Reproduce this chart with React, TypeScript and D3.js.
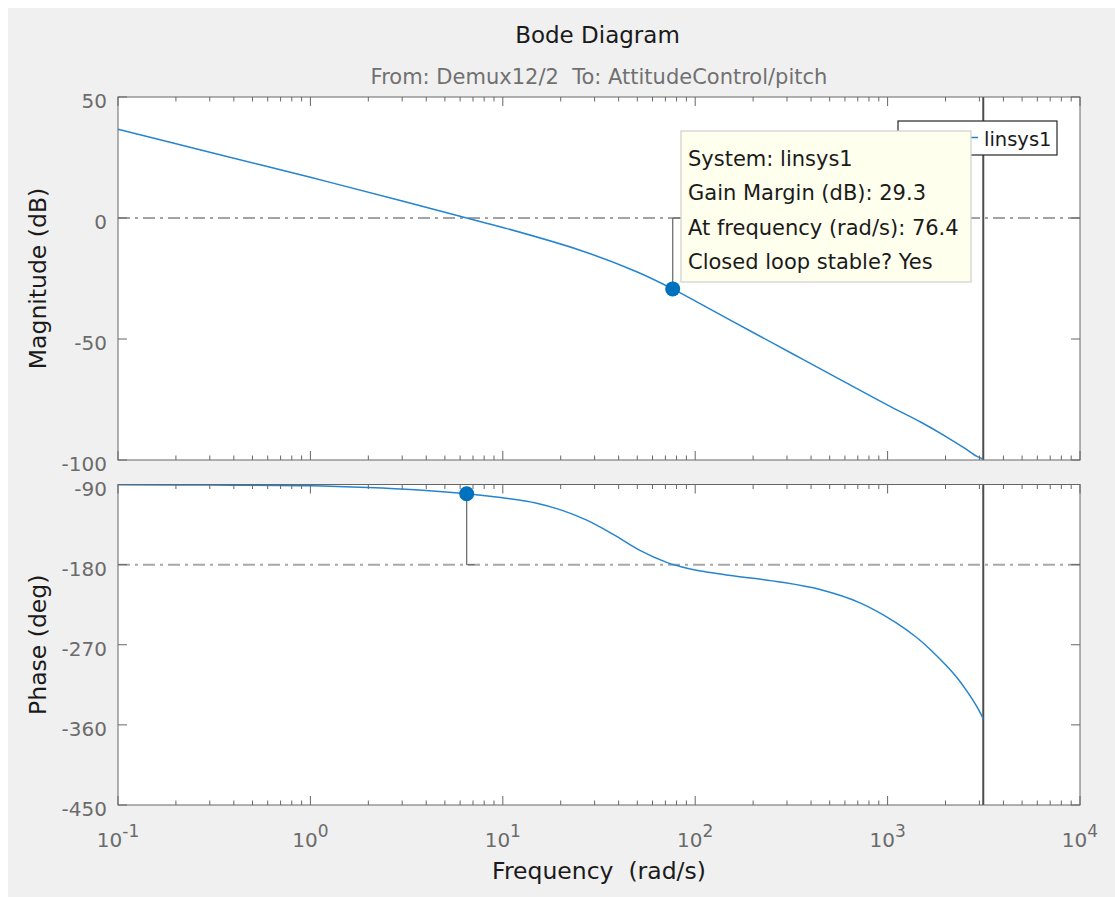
import React from "react";
import * as d3 from "d3";

// frequency samples (rad/s) and values
const magFreq = [0.1, 0.3, 1, 3, 6.49, 10, 25.2, 50, 76.4, 106, 200, 351, 600, 1000, 1500, 2000, 2500, 2900, 3141.6];
const magDb = [36.7, 27.2, 16.8, 7.0, 0, -3.9, -13.3, -22.3, -29.3, -35.4, -47.3, -57.8, -67.8, -77.3, -84.5, -90.2, -95, -98.4, -99.6];

const phFreq = [0.1, 0.3, 1, 2, 3.5, 6.49, 10, 15, 20, 27.3, 37.5, 51.6, 71, 83.4, 100, 150, 276, 445, 719, 1114, 1400, 1660, 2000, 2285, 2600, 2900, 3141.6];
const phDeg = [-90.3, -90.6, -91.5, -93.5, -96, -100.4, -105, -111, -118.5, -130, -146, -164, -177.5, -182, -186, -192, -199.5, -208, -223, -245.6, -261, -275, -292.5, -306.5, -323, -339, -353];

const xTickExps = [-1, 0, 1, 2, 3, 4];
const magTicks = [50, 0, -50, -100];
const phTicks = [-90, -180, -270, -360, -450];

const gmFreq = 76.4;
const gmDb = -29.3;
const pmFreq = 6.49;
const pmDeg = -100.4;
const nyquistFreq = 3141.6;

const tipLines = [
  "System: linsys1",
  "Gain Margin (dB): 29.3",
  "At frequency (rad/s): 76.4",
  "Closed loop stable? Yes",
];
const seriesName = "linsys1";

const FONT = "'DejaVu Sans', Arial, sans-serif";
const BLUE = "#0072BD";
const LINE_BLUE = "#2584cf";
const AXIS = "#666666";
const TICKTXT = "#6b6b6b";

const left = 118;
const right = 1080;
const magTop = 97;
const magBottom = 460;
const phTop = 484.5;
const phBottom = 805;

const x = d3.scaleLog().domain([0.1, 1e4]).range([left, right]);
const yMag = d3.scaleLinear().domain([-100, 50]).range([magBottom, magTop]);
const yPh = d3.scaleLinear().domain([-450, -90]).range([phBottom, phTop]);

const majorTicks = xTickExps.map((e) => Math.pow(10, e));
const minorTicks: number[] = [];
xTickExps.slice(0, -1).forEach((e) => {
  for (let m = 2; m <= 9; m++) minorTicks.push(m * Math.pow(10, e));
});

const Ticks = ({ y0, y1, yTicks, yScale }: any) => (
  <g stroke={AXIS} strokeWidth={1}>
    {majorTicks.map((f, i) => (
      <g key={"M" + i}>
        <line x1={x(f)} x2={x(f)} y1={y0} y2={y0 + 9} />
        <line x1={x(f)} x2={x(f)} y1={y1} y2={y1 - 9} />
      </g>
    ))}
    {minorTicks.map((f, i) => (
      <g key={"m" + i}>
        <line x1={x(f)} x2={x(f)} y1={y0} y2={y0 + 4.5} />
        <line x1={x(f)} x2={x(f)} y1={y1} y2={y1 - 4.5} />
      </g>
    ))}
    {yTicks.map((t: number) => (
      <g key={"y" + t}>
        <line x1={left} x2={left + 9} y1={yScale(t)} y2={yScale(t)} />
        <line x1={right} x2={right - 9} y1={yScale(t)} y2={yScale(t)} />
      </g>
    ))}
    <rect x={left} y={y0} width={right - left} height={y1 - y0} fill="none" />
  </g>
);

export default function App() {
  const magData = magFreq.map((f, i) => [f, magDb[i]] as [number, number]);
  const phData = phFreq.map((f, i) => [f, phDeg[i]] as [number, number]);

  const magLine = d3
    .line<[number, number]>()
    .x((d) => x(d[0]))
    .y((d) => yMag(d[1]))
    .curve(d3.curveCatmullRom.alpha(0.5));
  const phLine = d3
    .line<[number, number]>()
    .x((d) => x(d[0]))
    .y((d) => yPh(d[1]))
    .curve(d3.curveCatmullRom.alpha(0.5));

  const nx = x(nyquistFreq);
  const gx = x(gmFreq);
  const px = x(pmFreq);

  const tipX = 681;
  const tipY = 131;

  return (
    <svg
      width={1115}
      height={897}
      style={{ position: "absolute", left: 0, top: 0, fontFamily: FONT }}
    >
      <rect x={8} y={8} width={1107} height={889} fill="#f0f0f0" />

      <text x={597.5} y={43} textAnchor="middle" fontSize={23} fill="#1a1a1a">
        Bode Diagram
      </text>
      <text x={599} y={84} textAnchor="middle" fontSize={21} fill="#707070">
        From: Demux12/2{"\u00a0\u00a0"}To: AttitudeControl/pitch
      </text>

      {/* plot areas */}
      <rect x={left} y={magTop} width={right - left} height={magBottom - magTop} fill="#fff" />
      <rect x={left} y={phTop} width={right - left} height={phBottom - phTop} fill="#fff" />

      {/* reference lines 0 dB and -180 deg */}
      <line x1={left} x2={right} y1={yMag(0)} y2={yMag(0)} stroke="#858585" strokeWidth={1.4} strokeDasharray="12,5,3,5" />
      <line x1={left} x2={right} y1={yPh(-180)} y2={yPh(-180)} stroke="#a8a8a8" strokeWidth={2} strokeDasharray="12,5,3,5" />

      {/* Nyquist frequency */}
      <line x1={nx} x2={nx} y1={magTop} y2={magBottom} stroke="#4d4d4d" strokeWidth={2} />
      <line x1={nx} x2={nx} y1={phTop} y2={phBottom} stroke="#4d4d4d" strokeWidth={2} />

      <path d={magLine(magData) || ""} fill="none" stroke={LINE_BLUE} strokeWidth={1.5} />
      <path d={phLine(phData) || ""} fill="none" stroke={LINE_BLUE} strokeWidth={1.5} />

      {/* margin stems */}
      <line x1={gx} x2={gx} y1={yMag(0)} y2={yMag(gmDb)} stroke="#707070" strokeWidth={1.3} />
      <line x1={gx} x2={tipX} y1={yMag(0)} y2={yMag(0)} stroke="#707070" strokeWidth={1.3} />
      <line x1={px} x2={px} y1={yPh(-180)} y2={yPh(pmDeg)} stroke="#707070" strokeWidth={1.3} />
      <line x1={px} x2={px + 8} y1={yPh(-180)} y2={yPh(-180)} stroke="#707070" strokeWidth={1.3} />

      <circle cx={gx} cy={yMag(gmDb)} r={7.5} fill={BLUE} />
      <circle cx={px} cy={yPh(pmDeg)} r={7.5} fill={BLUE} />

      <Ticks y0={magTop} y1={magBottom} yTicks={magTicks} yScale={yMag} />
      <Ticks y0={phTop} y1={phBottom} yTicks={phTicks} yScale={yPh} />

      {/* y tick labels */}
      <g fontSize={20} fill={TICKTXT} textAnchor="end">
        {magTicks.map((t) => (
          <text key={"mt" + t} x={107} y={yMag(t) + 11}>
            {t}
          </text>
        ))}
        {phTicks.map((t) => (
          <text key={"pt" + t} x={107} y={yPh(t) + 11}>
            {t}
          </text>
        ))}
      </g>

      {/* x tick labels */}
      <g fontSize={20} fill={TICKTXT} textAnchor="middle">
        {xTickExps.map((e) => (
          <text key={"xt" + e} x={x(Math.pow(10, e))} y={847}>
            10
            <tspan dy={-10} fontSize={17}>
              {e}
            </tspan>
          </text>
        ))}
      </g>

      {/* axis labels */}
      <text x={599} y={879} textAnchor="middle" fontSize={23.5} fill="#1a1a1a">
        Frequency{"\u00a0\u00a0"}(rad/s)
      </text>
      <text
        transform={`translate(46,${(magTop + magBottom) / 2}) rotate(-90)`}
        textAnchor="middle"
        fontSize={23.5}
        fill="#1a1a1a"
      >
        Magnitude (dB)
      </text>
      <text
        transform={`translate(46,${(phTop + phBottom) / 2}) rotate(-90)`}
        textAnchor="middle"
        fontSize={23.5}
        fill="#1a1a1a"
      >
        Phase (deg)
      </text>

      {/* legend */}
      <rect x={898} y={121} width={159} height={34} fill="#fff" stroke="#262626" strokeWidth={1.2} />
      <line x1={915} x2={978} y1={137.5} y2={137.5} stroke={LINE_BLUE} strokeWidth={1.5} />
      <text x={984} y={146} fontSize={19.5} fill="#1a1a1a">
        {seriesName}
      </text>

      {/* data tip */}
      <rect x={tipX} y={tipY} width={290} height={151} fill="#ffffee" stroke="#cfcfcf" strokeWidth={1.2} />
      <g fontSize={21} fill="#1a1a1a">
        {tipLines.map((s, i) => (
          <text key={i} x={688} y={165.5 + i * 34.5}>
            {s}
          </text>
        ))}
      </g>
    </svg>
  );
}
